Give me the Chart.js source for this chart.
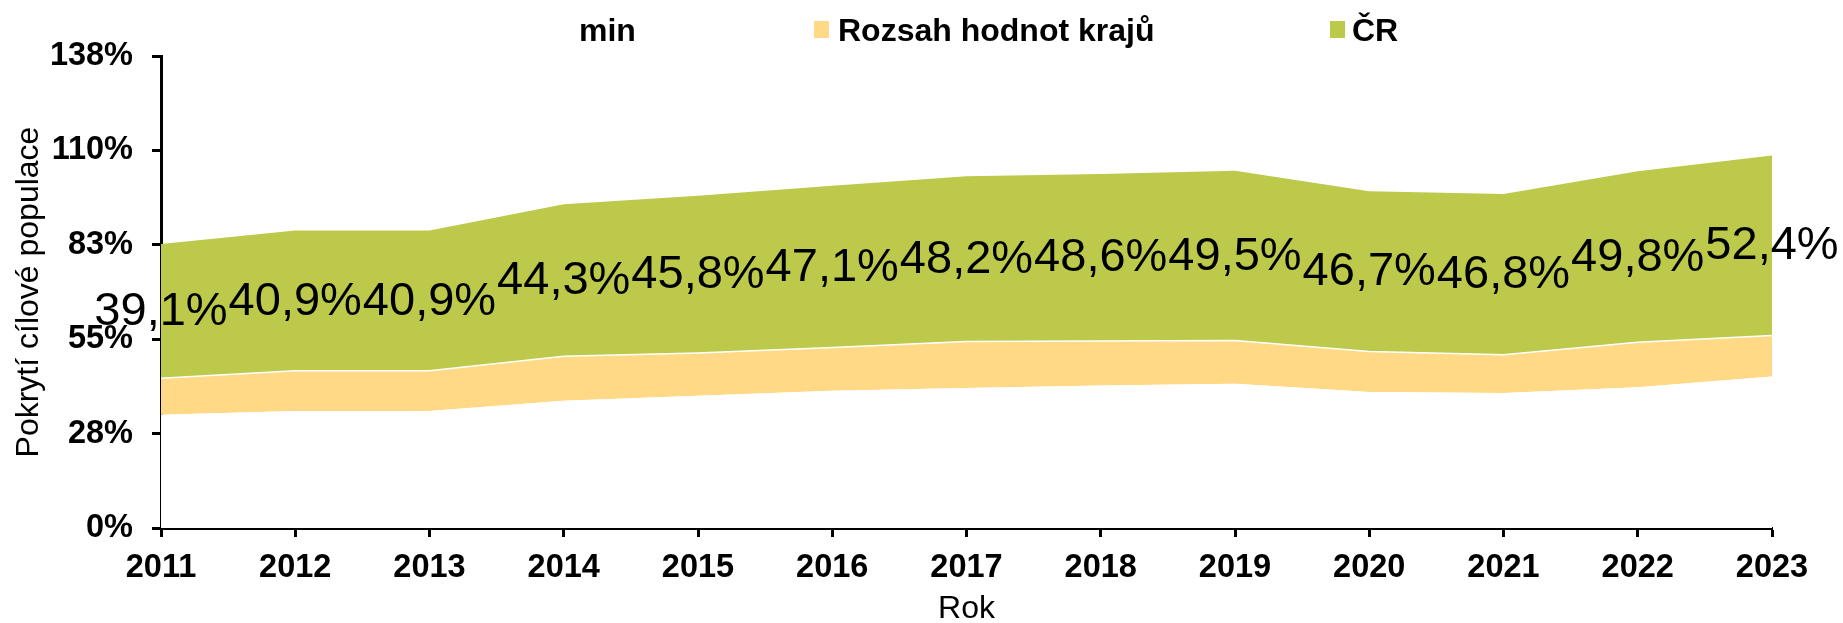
<!DOCTYPE html>
<html lang="cs">
<head>
  <meta charset="UTF-8">
  <title>Pokrytí cílové populace</title>
  <script src="https://cdn.jsdelivr.net/npm/chart.js"></script>
  <style>
    body {
      margin: 0;
      background: #fff;
    }
    .obal {
      position: relative;
      width: 1843px;
      height: 623px;
    }
    /* legenda je v HTML, rozestupy polozek nejsou pravidelne */
    .legenda {
      position: absolute;
      top: 12px;
      font: bold 32px "Liberation Sans", Arial, sans-serif;
      line-height: 36px;
      color: #000;
      white-space: nowrap;
    }
    .ctverec {
      position: absolute;
      top: 21px;
      width: 15px;
      height: 17px;
    }
  </style>
</head>
<body>

  <div class="obal">
    <canvas id="grafPokryti" width="1843" height="623"></canvas>

    <span class="ctverec" style="left:556px; background:#fff;"></span>
    <span class="legenda" style="left:579px;">min</span>
    <span class="ctverec" style="left:814px; background:#FFD985;"></span>
    <span class="legenda" style="left:838px;">Rozsah hodnot krajů</span>
    <span class="ctverec" style="left:1330px; background:#BDC94A;"></span>
    <span class="legenda" style="left:1352px;">ČR</span>
  </div>

  <script>
    // Data (v %)
    const roky = ['2011', '2012', '2013', '2014', '2015', '2016', '2017', '2018', '2019', '2020', '2021', '2022', '2023'];
    const minKraje = [33.0, 34.1, 34.1, 37.1, 38.5, 40.0, 40.8, 41.5, 42.0, 39.6, 39.3, 41.0, 44.1];
    const rozsahKraju = [10.6, 11.7, 11.7, 12.9, 12.5, 12.6, 13.5, 13.0, 12.6, 11.8, 11.2, 13.1, 12.0];
    const hodnotyCR = [39.1, 40.9, 40.9, 44.3, 45.8, 47.1, 48.2, 48.6, 49.5, 46.7, 46.8, 49.8, 52.4];
    const osaY = [0, 27.5, 55, 82.5, 110, 137.5];

    const pismo = '"Liberation Sans", Arial, sans-serif';

    // popisky hodnot CR uprostred zeleneho pasu
    const popiskyCR = {
      id: 'popiskyCR',
      afterDatasetsDraw(chart) {
        const ctx = chart.ctx;
        const meta = chart.getDatasetMeta(2);
        const osa = chart.scales.y;
        ctx.save();
        ctx.font = '47px ' + pismo;
        ctx.fillStyle = '#000';
        ctx.textAlign = 'center';
        ctx.textBaseline = 'middle';
        meta.data.forEach((bod, i) => {
          const stred = minKraje[i] + rozsahKraju[i] + hodnotyCR[i] / 2;
          const text = hodnotyCR[i].toFixed(1).replace('.', ',') + '%';
          ctx.fillText(text, bod.x, osa.getPixelForValue(stred) + 1);
        });
        ctx.restore();
      }
    };

    const mrizka = {
      display: true,
      drawOnChartArea: false,
      drawTicks: true,
      tickLength: 9,
      tickWidth: 3,
      tickColor: '#000'
    };

    const ctx = document.getElementById('grafPokryti').getContext('2d');
    new Chart(ctx, {
      type: 'line',
      data: {
        labels: roky,
        datasets: [
          {
            label: 'min',
            data: minKraje,
            backgroundColor: '#fff',
            borderWidth: 0,
            pointRadius: 0,
            fill: 'origin'
          },
          {
            label: 'Rozsah hodnot krajů',
            data: rozsahKraju,
            backgroundColor: '#FFD985',
            borderColor: '#fff',
            borderWidth: 1.5,
            pointRadius: 0,
            fill: '-1'
          },
          {
            label: 'ČR',
            data: hodnotyCR,
            backgroundColor: '#BDC94A',
            borderWidth: 0,
            pointRadius: 0,
            fill: '-1'
          }
        ]
      },
      options: {
        responsive: false,
        animation: false,
        layout: {
          padding: { top: 56, right: 71, left: 0, bottom: 0 }
        },
        plugins: {
          legend: { display: false },
          tooltip: { enabled: false }
        },
        scales: {
          x: {
            grid: mrizka,
            border: { display: true, color: '#000', width: 3 },
            ticks: {
              color: '#000',
              font: { family: pismo, size: 32.5, weight: 'bold' },
              padding: 12,
              maxRotation: 0,
              autoSkip: false
            },
            title: {
              display: true,
              text: 'Rok',
              color: '#000',
              font: { family: pismo, size: 32, lineHeight: 1 },
              padding: { top: 0, bottom: -2 }
            },
            afterFit(scale) { scale.height = 95; }
          },
          y: {
            stacked: true,
            min: osaY[0],
            max: osaY[osaY.length - 1],
            grid: mrizka,
            border: { display: true, color: '#000', width: 3 },
            ticks: {
              stepSize: osaY[1] - osaY[0],
              color: '#000',
              font: { family: pismo, size: 32.5, weight: 'bold' },
              padding: 19,
              callback: v => Math.round(v) + '%'
            },
            title: {
              display: true,
              text: 'Pokrytí cílové populace',
              color: '#000',
              font: { family: pismo, size: 32 },
              padding: { top: 10, bottom: 0 }
            },
            afterFit(scale) { scale.width = 161; }
          }
        }
      },
      plugins: [popiskyCR]
    });
  </script>

</body>
</html>
